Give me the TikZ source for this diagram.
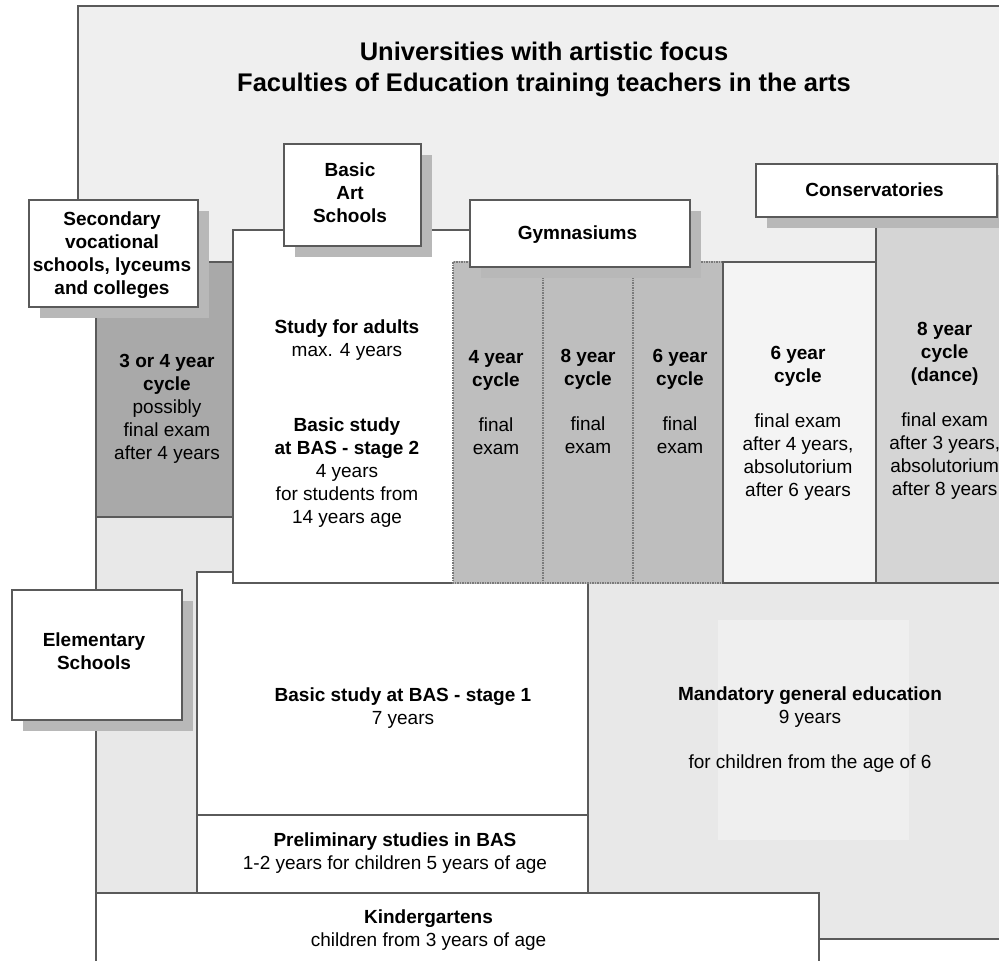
\documentclass[tikz,border=0pt]{standalone}
\usepackage{fontspec}
\setmainfont{Liberation Sans}
\usetikzlibrary{shadows}
\definecolor{linec}{HTML}{5A5A5A}
\definecolor{dotc}{HTML}{7A7A7A}
\definecolor{outerbg}{HTML}{EFEFEF}
\definecolor{darkcol}{HTML}{A9A9A9}
\definecolor{gymcol}{HTML}{BEBEBE}
\definecolor{consA}{HTML}{F4F4F4}
\definecolor{consB}{HTML}{D5D5D5}
\definecolor{lightreg}{HTML}{E8E8E8}
\definecolor{innerlight}{HTML}{EFEFEF}
\definecolor{shadowc}{HTML}{B8B8B8}
\tikzset{
  region/.style={draw=linec, line width=1.8pt},
  dotline/.style={draw=dotc, line width=1.2pt, dash pattern=on 1.5pt off 1pt},
  labelbox/.style={draw=linec, line width=1.8pt, fill=white, inner sep=0pt, anchor=north west,
    drop shadow={shadow xshift=11pt, shadow yshift=-11.5pt, fill=shadowc, opacity=1}},
  lbl/.style={font=\bfseries\fontsize{19}{23}\selectfont, align=center, inner sep=0pt},
  txt/.style={font=\fontsize{19}{23}\selectfont, align=center, inner sep=0pt},
  titletxt/.style={font=\bfseries\fontsize{25.5}{31}\selectfont, align=center, inner sep=0pt},
}
\begin{document}
\begin{tikzpicture}[x=1pt, y=-1pt]
\useasboundingbox (0,0) rectangle (999,961);
\clip (0,0) rectangle (999,961);
\fill[white] (0,0) rectangle (999,961);
% universities background
\fill[outerbg] (78,6) rectangle (1010,300);
\draw[region] (78,300) -- (78,6) -- (1010,6);
% mandatory general education
\filldraw[fill=lightreg, region] (588,583) rectangle (1010,939);
\fill[innerlight] (718,620) rectangle (909,840);
% left light strip
\filldraw[fill=lightreg, region] (96,510) rectangle (240,893);
% secondary column
\filldraw[fill=darkcol, region] (96,262) rectangle (233,517);
% BAS stage 1 and preliminary
\filldraw[fill=white, region] (197,572) rectangle (588,815);
\filldraw[fill=white, region] (197,815) rectangle (588,893);
% BAS stage 2
\filldraw[fill=white, region] (233,230) rectangle (470,583);
% gymnasium columns
\fill[gymcol] (453,261) rectangle (723,584.2);
\draw[dotline] (453,262) rectangle (723,583);
\draw[dotline] (543,262) -- (543,583);
\draw[dotline] (633,262) -- (633,583);
% conservatory columns
\filldraw[fill=consA, region] (723,262) rectangle (876,583);
\filldraw[fill=consB, region] (876,205) rectangle (1010,583);
% kindergartens
\filldraw[fill=white, region] (96,893) rectangle (819,975);

% label boxes
\node[labelbox, minimum width=169pt, minimum height=107pt] (secbox) at (28,199) {};
\node[labelbox, minimum width=137pt, minimum height=102pt] (basbox) at (283,143) {};
\node[labelbox, minimum width=220pt, minimum height=67pt] (gymbox) at (469,199) {};
\node[labelbox, minimum width=241pt, minimum height=53pt] (consbox) at (755,163) {};
\node[labelbox, minimum width=170pt, minimum height=130pt] (elembox) at (11,589) {};

% title
\node[titletxt] (title) at (544,69) {Universities with artistic focus\\Faculties of Education training teachers in the arts};

% label texts
\node[lbl] (sectext) at (112,254.9) {Secondary\\vocational\\schools, lyceums\\and colleges};
\node[lbl] (bastext) at (350,192.9) {Basic\\Art\\Schools};
\node[lbl] (gymtext) at (577.5,234.9) {Gymnasiums};
\node[lbl] (constext) at (874.5,189.5) {Conservatories};
\node[lbl] (elemtext) at (94,651.4) {Elementary\\Schools};

% column texts
\node[txt] (sectcyc) at (167,409.3) {\textbf{3 or 4 year}\\\textbf{cycle}\\possibly\\final exam\\after 4 years};
\node[txt] (adults) at (347,340.3) {\textbf{Study for adults}\\max. 4 years};
\node[txt] (stagetwo) at (347,472.8) {\textbf{Basic study}\\\textbf{at BAS - stage 2}\\4 years\\for students from\\14 years age};
\node[txt] (gymfour) at (496,402.3) {\textbf{4 year}\\\textbf{cycle}\\[22pt]final\\exam};
\node[txt] (gymeight) at (588,401.3) {\textbf{8 year}\\\textbf{cycle}\\[22pt]final\\exam};
\node[txt] (gymsix) at (680,401.8) {\textbf{6 year}\\\textbf{cycle}\\[22pt]final\\exam};
\node[txt] (conssix) at (798,423.2) {\textbf{6 year}\\\textbf{cycle}\\[22pt]final exam\\after 4 years,\\absolutorium\\after 6 years};
\node[txt] (conseight) at (944.7,411.3) {\textbf{8 year}\\\textbf{cycle}\\\textbf{(dance)}\\[22pt]final exam\\after 3 years,\\absolutorium\\after 8 years};
\node[txt] (stageone) at (403,708.3) {\textbf{Basic study at BAS - stage 1}\\7 years};
\node[txt] (prelim) at (395,852.8) {\textbf{Preliminary studies in BAS}\\1-2 years for children 5 years of age};
\node[txt] (kinder) at (428.5,930.3) {\textbf{Kindergartens}\\children from 3 years of age};
\node[txt] (mandatory) at (810,729.3) {\textbf{Mandatory general education}\\9 years\\[22pt]for children from the age of 6};
\end{tikzpicture}
\end{document}
